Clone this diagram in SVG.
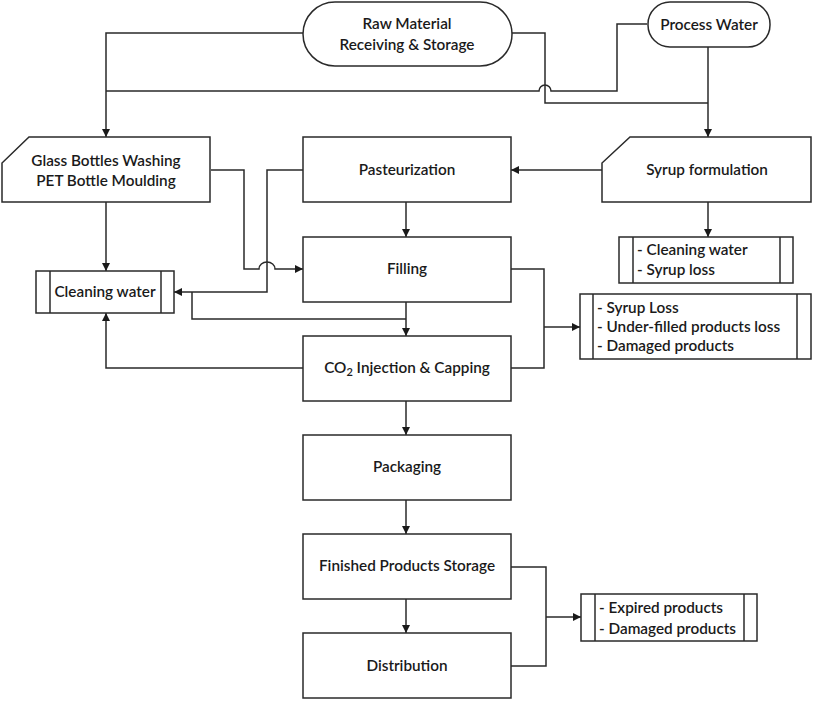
<svg xmlns="http://www.w3.org/2000/svg" width="813" height="702" viewBox="0 0 813 702">
<defs>
<marker id="ah" markerWidth="10" markerHeight="10" refX="9" refY="5" orient="auto" markerUnits="userSpaceOnUse">
<path d="M1,1 L9,5 L1,9 Z" fill="#1a1a1a"/>
</marker>
<style>
.box{fill:#fff;stroke:#2a2a2a;stroke-width:1.5}
.ln{fill:none;stroke:#2a2a2a;stroke-width:1.5}
.t{font-family:Lato,"Liberation Sans",Arial,sans-serif;font-size:15.3px;font-weight:600;fill:#1a1a1a;text-anchor:middle}
.tl{font-family:Lato,"Liberation Sans",Arial,sans-serif;font-size:15.3px;font-weight:600;fill:#1a1a1a;text-anchor:start}
.c{fill:none;stroke:#2a2a2a;stroke-width:1.5;marker-end:url(#ah)}
</style>
</defs>
<rect width="813" height="702" fill="#fff"/>
<g id="connectors">
<path class="c" d="M303,33 H106 V137"/>
<path class="ln" d="M647,24 H617 V91 H551 A6,6 0 0 0 539,91 H106"/>
<path class="ln" d="M512,33 H545 V103 H708"/>
<path class="c" d="M708,47 V137"/>
<path class="c" d="M602,170 H511"/>
<path class="c" d="M708,202 V237"/>
<path class="c" d="M106,202 V271"/>
<path class="c" d="M211,170 H244 V269 H259 A8,7 0 0 1 275,269 H303"/>
<path class="c" d="M303,170 H267 V292 H174"/>
<path class="ln" d="M192,292 V319 H406"/>
<path class="c" d="M406,202 V237"/>
<path class="c" d="M406,302 V336"/>
<path class="c" d="M303,368 H106 V313"/>
<path class="ln" d="M511,269 H544 V368 H511"/>
<path class="c" d="M544,327 H580"/>
<path class="c" d="M406,401 V435"/>
<path class="c" d="M406,500 V534"/>
<path class="c" d="M406,599 V633"/>
<path class="ln" d="M511,567 H546 V666 H511"/>
<path class="c" d="M546,617 H581"/>
</g>
<g id="raw-material">
<rect class="box" x="303" y="2" width="209" height="64" rx="32" ry="32"/>
<text class="t" x="407" y="29">Raw Material</text>
<text class="t" x="407" y="50">Receiving &amp; Storage</text>
</g>
<g id="process-water">
<rect class="box" x="648" y="2" width="122" height="45" rx="22" ry="22"/>
<text class="t" x="709" y="30">Process Water</text>
</g>
<g id="glass-bottles">
<path class="box" d="M29,137 H210 V202 H2 V163 Z"/>
<text class="t" x="106" y="166">Glass Bottles Washing</text>
<text class="t" x="106" y="186">PET Bottle Moulding</text>
</g>
<g id="pasteurization">
<rect class="box" x="303" y="137" width="208" height="65"/>
<text class="t" x="407" y="175">Pasteurization</text>
</g>
<g id="syrup-formulation">
<path class="box" d="M630,137 H811 V202 H602 V163 Z"/>
<text class="t" x="707" y="175">Syrup formulation</text>
</g>
<g id="syrup-waste">
<rect class="box" x="619" y="237" width="174" height="46"/>
<line class="ln" x1="633" y1="237" x2="633" y2="283"/>
<line class="ln" x1="780" y1="237" x2="780" y2="283"/>
<text class="tl" x="637" y="255">- Cleaning water</text>
<text class="tl" x="637" y="275">- Syrup loss</text>
</g>
<g id="cleaning-water">
<rect class="box" x="36" y="271" width="138" height="42"/>
<line class="ln" x1="50" y1="271" x2="50" y2="313"/>
<line class="ln" x1="161" y1="271" x2="161" y2="313"/>
<text class="t" x="105" y="297">Cleaning water</text>
</g>
<g id="filling">
<rect class="box" x="303" y="237" width="208" height="65"/>
<text class="t" x="407" y="274">Filling</text>
</g>
<g id="filling-waste">
<rect class="box" x="580" y="294" width="231" height="65"/>
<line class="ln" x1="593" y1="294" x2="593" y2="359"/>
<line class="ln" x1="797" y1="294" x2="797" y2="359"/>
<text class="tl" x="597" y="313">- Syrup Loss</text>
<text class="tl" x="597" y="332">- Under-filled products loss</text>
<text class="tl" x="597" y="351">- Damaged products</text>
</g>
<g id="co2-capping">
<rect class="box" x="303" y="336" width="208" height="65"/>
<text class="t" x="407" y="373">CO<tspan font-size="11" dy="3">2</tspan><tspan dy="-3"> Injection &amp; Capping</tspan></text>
</g>
<g id="packaging">
<rect class="box" x="303" y="435" width="208" height="65"/>
<text class="t" x="407" y="472">Packaging</text>
</g>
<g id="finished-storage">
<rect class="box" x="303" y="534" width="208" height="65"/>
<text class="t" x="407" y="571">Finished Products Storage</text>
</g>
<g id="distribution">
<rect class="box" x="303" y="633" width="208" height="65"/>
<text class="t" x="407" y="671">Distribution</text>
</g>
<g id="storage-waste">
<rect class="box" x="581" y="594" width="176" height="47"/>
<line class="ln" x1="595" y1="594" x2="595" y2="641"/>
<line class="ln" x1="744" y1="594" x2="744" y2="641"/>
<text class="tl" x="599" y="613">- Expired products</text>
<text class="tl" x="599" y="634">- Damaged products</text>
</g>
</svg>
